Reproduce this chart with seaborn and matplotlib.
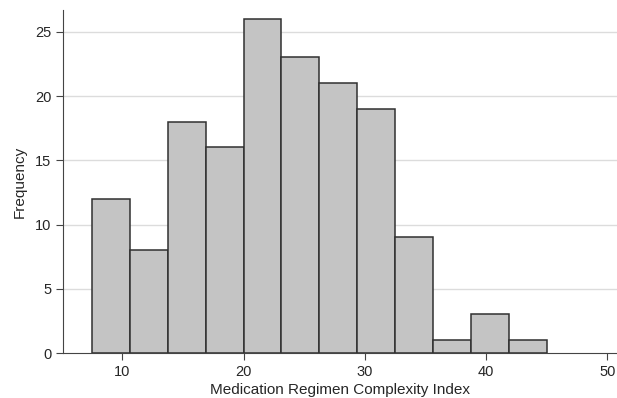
import numpy as np
import pandas as pd
import seaborn as sns
import matplotlib.pyplot as plt

# histogram
bin_edges = list(np.linspace(7.5, 45.0, 13))
counts = [12, 8, 18, 16, 26, 23, 21, 19, 9, 1, 3, 1]
x_ticks = [10, 20, 30, 40, 50]
y_ticks = [0, 5, 10, 15, 20, 25]

sns.set_style("white")
plt.rcParams['font.family'] = ['Liberation Sans', 'DejaVu Sans']

centers = [(a + b) / 2 for a, b in zip(bin_edges[:-1], bin_edges[1:])]
df = pd.DataFrame({"mrci": centers, "n": counts})

fig = plt.figure(figsize=(6.17, 3.98), dpi=100)
ax = fig.add_axes([0.102, 0.113, 0.898, 0.862])

for y in y_ticks[1:]:
    ax.axhline(y, color="#dcdcdc", lw=1.0, zorder=0)

sns.histplot(data=df, x="mrci", weights="n", bins=bin_edges, ax=ax,
             color="#c4c4c4", edgecolor="#303030", linewidth=1.1,
             alpha=1, zorder=2)

ax.set_xlim(5.1, 50.8)
ax.set_ylim(0, 26.7)
ax.set_xticks(x_ticks)
ax.set_yticks(y_ticks)
ax.tick_params(axis="both", labelsize=10.5, length=5, width=0.8,
               color="#444444", direction="out", bottom=True, left=True)
ax.set_xlabel("Medication Regimen Complexity Index", fontsize=11, labelpad=3)
ax.set_ylabel("Frequency", fontsize=11, labelpad=6)

sns.despine(ax=ax, top=True, right=True)
for s in ["left", "bottom"]:
    ax.spines[s].set_color("#444444")
    ax.spines[s].set_linewidth(0.8)

fig.savefig("out.png", dpi=100)
